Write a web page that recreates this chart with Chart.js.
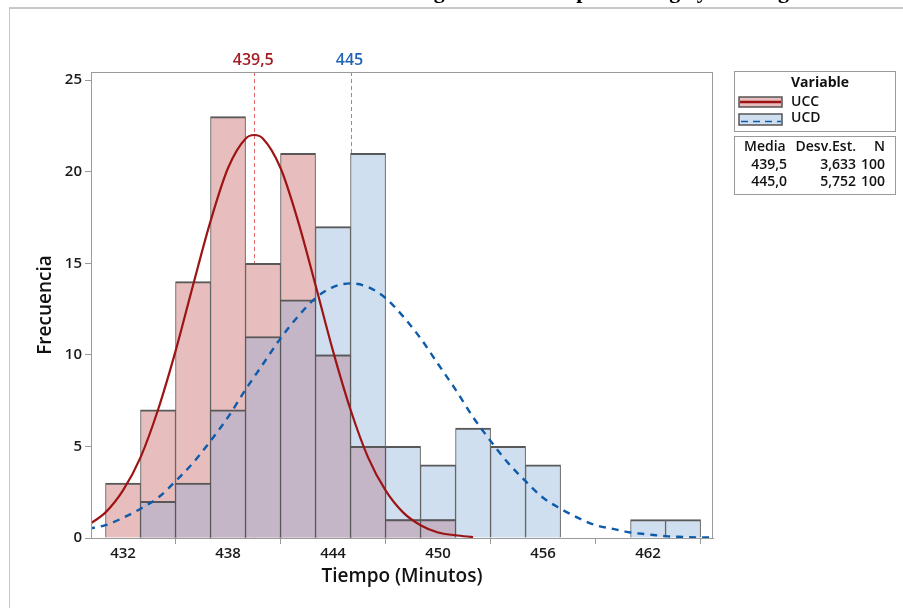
<!DOCTYPE html>
<html lang="es">
<head>
<meta charset="utf-8">
<title>Histograma UCC / UCD</title>
<script src="https://cdn.jsdelivr.net/npm/chart.js@4.4.1/dist/chart.umd.min.js"></script>
<style>
    html, body { margin: 0; padding: 0; background: #fff; }
    canvas { display: block; }
</style>
</head>
<body>
<canvas id="histChart" width="903" height="608"></canvas>
<script>
// ---- datos ----
const binCenters = [432, 434, 436, 438, 440, 442, 444, 446, 448, 450, 452, 454, 456, 458, 460, 462, 464];
const uccCounts  = [3, 7, 14, 23, 15, 21, 10, 5, 1, 1, 0, 0, 0, 0, 0, 0, 0];
const ucdCounts  = [0, 2, 3, 7, 11, 13, 17, 21, 5, 4, 6, 5, 4, 0, 0, 1, 1];
// zona donde se solapan las dos barras (color morado)
const overlapCounts = [0, 2, 3, 7, 11, 13, 10, 5, 1, 1, 0, 0, 0, 0, 0, 0, 0];

// curvas normales ajustadas (leidas punto a punto)
const uccCurveX = [430, 431, 432, 433, 434, 435, 436, 437, 438, 439, 439.5, 440, 441, 442, 443, 444, 445, 446, 447, 448, 449, 450, 451, 452];
const uccCurveY = [0.7, 1.4, 2.6, 4.4, 7.0, 10.2, 13.8, 17.3, 20.2, 21.8, 22.0, 21.8, 20.2, 17.3, 13.8, 10.2, 7.0, 4.4, 2.6, 1.4, 0.7, 0.3, 0.15, 0.05];
const ucdCurveX = [430, 431, 432, 433, 434, 435, 436, 437, 438, 439, 440, 441, 442, 443, 444, 445, 446, 447, 448, 449, 450, 451, 452, 453, 454, 455, 456, 457, 458, 459, 460, 461, 462, 463, 464, 465, 466];
const ucdCurveY = [0.5, 0.7, 1.1, 1.6, 2.2, 3.1, 4.1, 5.3, 6.6, 8.1, 9.5, 10.9, 12.1, 13.1, 13.7, 13.9, 13.7, 13.1, 12.1, 10.9, 9.5, 8.1, 6.6, 5.3, 4.1, 3.1, 2.2, 1.6, 1.1, 0.7, 0.5, 0.3, 0.2, 0.1, 0.06, 0.03, 0.02];

const xTicks = [432, 438, 444, 450, 456, 462];
const yTicks = [0, 5, 10, 15, 20, 25];

const seriesNames = ['UCC', 'UCD'];
const meanValues  = [439.5, 445.0];
const meanLabels  = ['439,5', '445'];
const statMedia   = ['439,5', '445,0'];
const statDesv    = ['3,633', '5,752'];
const statN       = ['100', '100'];

const titleText = 'Histograma de Tiempo de Carga y Descarga';

// colores
const pinkFill   = '#e8bdbd';
const blueFill   = '#d0dfef';
const purpleFill = '#c4b5c7';
const barBorder  = '#585858';
const redLine    = '#9c1414';
const blueLine   = '#0d5bab';
const axisGray   = '#9a9a9a';
const FONT = '"Open Sans", "Noto Sans", sans-serif';

function toPoints(xs, ys) {
    return xs.map((x, i) => ({ x: x, y: ys[i] }));
}

const barBorderWidth = { top: 2, left: 1, right: 1, bottom: 0 };

// lineas de media, marco del area y leyenda
const decorPlugin = {
    id: 'decor',
    beforeDatasetsDraw(chart) {
        const ctx = chart.ctx;
        const x = chart.scales.x;
        const area = chart.chartArea;
        const colors = ['#e46a6c', '#5d9ad6'];
        ctx.save();
        ctx.lineWidth = 1;
        ctx.setLineDash([4, 3]);
        meanValues.forEach((m, i) => {
            const px = Math.round(x.getPixelForValue(m)) + 0.5;
            ctx.strokeStyle = colors[i];
            ctx.beginPath();
            ctx.moveTo(px, area.top);
            ctx.lineTo(px, area.bottom);
            ctx.stroke();
        });
        ctx.restore();
    },
    afterDraw(chart) {
        const ctx = chart.ctx;
        const x = chart.scales.x;
        const area = chart.chartArea;
        ctx.save();

        // marco exterior del grafico
        ctx.strokeStyle = '#c8c8c8';
        ctx.lineWidth = 2;
        ctx.beginPath();
        ctx.moveTo(9, 8);
        ctx.lineTo(903, 8);
        ctx.stroke();
        ctx.lineWidth = 1;
        ctx.beginPath();
        ctx.moveTo(9.5, 8);
        ctx.lineTo(9.5, 608);
        ctx.stroke();

        // titulo (queda casi fuera de la ventana)
        ctx.fillStyle = '#000';
        ctx.font = 'bold 22px "Liberation Serif", serif';
        ctx.textAlign = 'right';
        ctx.textBaseline = 'alphabetic';
        ctx.fillText(titleText, 800, -2);

        // marco superior y derecho del area de datos
        ctx.strokeStyle = axisGray;
        ctx.lineWidth = 1;
        ctx.strokeRect(Math.round(area.left) + 0.5, Math.round(area.top) + 0.5,
            Math.round(area.right - area.left) - 1, Math.round(area.bottom - area.top));

        // etiquetas de las medias
        const labelColors = ['#a31d22', '#1f64b4'];
        ctx.font = '600 16px ' + FONT;
        ctx.textAlign = 'center';
        ctx.textBaseline = 'middle';
        meanValues.forEach((m, i) => {
            ctx.fillStyle = labelColors[i];
            ctx.fillText(meanLabels[i], x.getPixelForValue(m) - 1, 60);
        });

        // leyenda: variables
        ctx.strokeStyle = axisGray;
        ctx.lineWidth = 1;
        ctx.strokeRect(734.5, 71.5, 161, 60);
        ctx.fillStyle = '#111';
        ctx.textAlign = 'left';
        ctx.font = '700 14px ' + FONT;
        ctx.fillText('Variable', 791, 83);

        ctx.font = '600 14px ' + FONT;
        // UCC
        ctx.fillStyle = pinkFill;
        ctx.fillRect(739, 97, 43, 10);
        ctx.strokeStyle = '#555';
        ctx.lineWidth = 1.5;
        ctx.strokeRect(739, 97, 43, 10);
        ctx.strokeStyle = redLine;
        ctx.lineWidth = 2.5;
        ctx.beginPath();
        ctx.moveTo(740, 102);
        ctx.lineTo(781, 102);
        ctx.stroke();
        ctx.fillStyle = '#111';
        ctx.fillText(seriesNames[0], 791, 102);
        // UCD
        ctx.fillStyle = blueFill;
        ctx.fillRect(739, 114, 43, 11);
        ctx.strokeStyle = '#555';
        ctx.lineWidth = 1.5;
        ctx.strokeRect(739, 114, 43, 11);
        ctx.strokeStyle = blueLine;
        ctx.lineWidth = 1.5;
        ctx.setLineDash([7, 5]);
        ctx.beginPath();
        ctx.moveTo(741, 121.5);
        ctx.lineTo(781, 121.5);
        ctx.stroke();
        ctx.setLineDash([]);
        ctx.fillStyle = '#111';
        ctx.fillText(seriesNames[1], 791, 118);

        // leyenda: estadisticos
        ctx.strokeStyle = axisGray;
        ctx.lineWidth = 1;
        ctx.strokeRect(734.5, 136.5, 161, 58);
        ctx.fillStyle = '#111';
        ctx.textAlign = 'left';
        ctx.fillText('Media', 744, 147);
        ctx.textAlign = 'right';
        ctx.fillText('Desv.Est.', 856, 147);
        ctx.fillText('N', 885, 147);
        [165, 182].forEach((y, i) => {
            ctx.fillText(statMedia[i], 787, y);
            ctx.fillText(statDesv[i], 856, y);
            ctx.fillText(statN[i], 885, y);
        });

        ctx.restore();
    }
};

document.addEventListener('DOMContentLoaded', function() {
    const ctx = document.getElementById('histChart');
    new Chart(ctx, {
        type: 'bar',
        data: {
            datasets: [
                {
                    type: 'line',
                    label: 'UCC ajuste',
                    data: toPoints(uccCurveX, uccCurveY),
                    borderColor: redLine,
                    borderWidth: 2.2,
                    pointRadius: 0,
                    cubicInterpolationMode: 'monotone',
                    order: 0
                },
                {
                    type: 'line',
                    label: 'UCD ajuste',
                    data: toPoints(ucdCurveX, ucdCurveY),
                    borderColor: blueLine,
                    borderWidth: 2.4,
                    borderDash: [7, 6],
                    pointRadius: 0,
                    cubicInterpolationMode: 'monotone',
                    order: 1
                },
                {
                    label: 'Solape',
                    data: toPoints(binCenters, overlapCounts),
                    backgroundColor: purpleFill,
                    borderColor: barBorder,
                    borderWidth: barBorderWidth,
                    grouped: false,
                    barPercentage: 1,
                    categoryPercentage: 1,
                    order: 2
                },
                {
                    label: seriesNames[0],
                    data: toPoints(binCenters, uccCounts),
                    backgroundColor: pinkFill,
                    borderColor: barBorder,
                    borderWidth: barBorderWidth,
                    grouped: false,
                    barPercentage: 1,
                    categoryPercentage: 1,
                    order: 3
                },
                {
                    label: seriesNames[1],
                    data: toPoints(binCenters, ucdCounts),
                    backgroundColor: blueFill,
                    borderColor: barBorder,
                    borderWidth: barBorderWidth,
                    grouped: false,
                    barPercentage: 1,
                    categoryPercentage: 1,
                    order: 4
                }
            ]
        },
        options: {
            responsive: false,
            devicePixelRatio: 1,
            animation: false,
            layout: {
                padding: { left: 0, top: 72, right: 190, bottom: 0 }
            },
            plugins: {
                legend: { display: false },
                tooltip: { enabled: false }
            },
            scales: {
                x: {
                    type: 'linear',
                    min: 430.17,
                    max: 465.71,
                    offset: false,
                    afterBuildTicks: function(scale) {
                        scale.ticks = xTicks.map(v => ({ value: v }));
                    },
                    afterFit: function(scale) {
                        scale.height = 70;
                    },
                    grid: {
                        drawOnChartArea: false,
                        drawTicks: true,
                        tickLength: 6,
                        color: axisGray
                    },
                    border: { display: true, color: axisGray, width: 1 },
                    ticks: {
                        padding: 1,
                        color: '#1a1a1a',
                        font: { family: FONT, size: 15, weight: '600' },
                        maxRotation: 0
                    },
                    title: {
                        display: true,
                        text: 'Tiempo (Minutos)',
                        color: '#111',
                        font: { family: FONT, size: 19, weight: '600' },
                        padding: { top: 0, bottom: 20 }
                    }
                },
                y: {
                    min: 0,
                    max: 25.44,
                    afterBuildTicks: function(scale) {
                        scale.ticks = yTicks.map(v => ({ value: v }));
                    },
                    afterFit: function(scale) {
                        scale.width = 91;
                    },
                    grid: {
                        drawOnChartArea: false,
                        drawTicks: true,
                        tickLength: 6,
                        color: axisGray
                    },
                    border: { display: true, color: axisGray, width: 1 },
                    ticks: {
                        padding: 3,
                        color: '#1a1a1a',
                        font: { family: FONT, size: 15, weight: '600' }
                    },
                    title: {
                        display: true,
                        text: 'Frecuencia',
                        color: '#111',
                        font: { family: FONT, size: 19, weight: '600' },
                        padding: { top: 34, bottom: 0 }
                    }
                }
            }
        },
        plugins: [decorPlugin]
    });
});
</script>
</body>
</html>
